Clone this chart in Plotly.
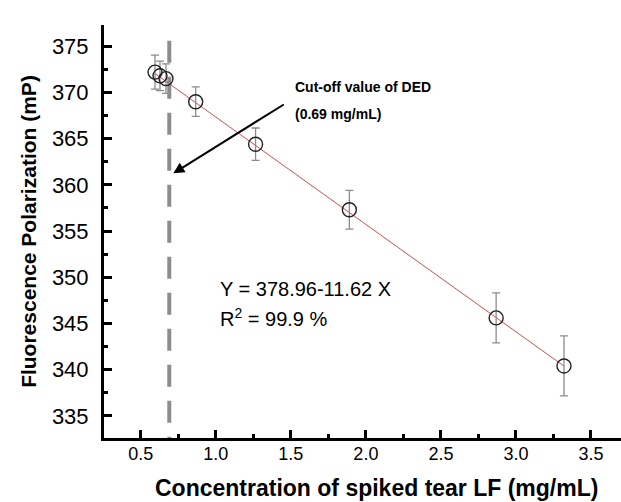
import plotly.graph_objects as go

# Data
conc = [0.595, 0.628, 0.668, 0.866, 1.265, 1.89, 2.868, 3.32]
fp = [372.2, 371.8, 371.5, 369.0, 364.4, 357.3, 345.6, 340.4]
fp_err = [1.85, 1.6, 1.6, 1.6, 1.75, 2.1, 2.7, 3.25]

intercept = 378.96
slope = -11.62
cutoff = 0.69

fit_x = [conc[0], conc[-1]]
fit_y = [intercept + slope * x for x in fit_x]

FONT = "Liberation Sans, Arial, sans-serif"

fig = go.Figure()

# cutoff dashed line
fig.add_trace(go.Scatter(
    x=[cutoff, cutoff], y=[375.6, 332.6], mode="lines",
    line=dict(color="#8c8c8c", width=4, dash="22px,14px"),
    showlegend=False, hoverinfo="skip"))

# fit line
fig.add_trace(go.Scatter(
    x=fit_x, y=fit_y, mode="lines",
    line=dict(color="#d0504c", width=1),
    showlegend=False, hoverinfo="skip"))

# points with error bars
fig.add_trace(go.Scatter(
    x=conc, y=fp, mode="markers",
    marker=dict(symbol="circle-open", size=14, color="#222222", line=dict(width=1.4)),
    error_y=dict(type="data", array=fp_err, visible=True, color="#8c8c8c", thickness=1.3, width=4),
    showlegend=False))

fig.add_annotation(
    x=0.717, y=361.25, ax=1.473, ay=368.9, xref="x", yref="y", axref="x", ayref="y",
    showarrow=True, arrowhead=2, arrowsize=1.1, arrowwidth=2, arrowcolor="black", text=" ")

fig.add_annotation(x=1.515, y=370.55, xref="x", yref="y", xanchor="left", yanchor="middle",
                   text="<b>Cut-off value of DED</b>", showarrow=False,
                   font=dict(family=FONT, size=14, color="black"))
fig.add_annotation(x=1.515, y=367.66, xref="x", yref="y", xanchor="left", yanchor="middle",
                   text="<b>(0.69 mg/mL)</b>", showarrow=False,
                   font=dict(family=FONT, size=14, color="black"))

fig.add_annotation(x=1.015, y=348.73, xref="x", yref="y", xanchor="left", yanchor="middle",
                   text="Y = 378.96-11.62 X", showarrow=False,
                   font=dict(family=FONT, size=20, color="black"))
fig.add_annotation(x=1.015, y=345.65, xref="x", yref="y", xanchor="left", yanchor="middle",
                   text="R<sup>2</sup> = 99.9 %", showarrow=False,
                   font=dict(family=FONT, size=20, color="black"))

# x-axis title (placed as annotation to match horizontal offset)
fig.add_annotation(x=0.527, y=-0.121, xref="paper", yref="paper", xanchor="center", yanchor="middle",
                   text="<b>Concentration of spiked tear LF (mg/mL)</b>", showarrow=False,
                   font=dict(family=FONT, size=23, color="black"))

fig.update_layout(
    width=621, height=502,
    margin=dict(l=104, r=0, t=25, b=64),
    paper_bgcolor="white", plot_bgcolor="white",
    font=dict(family=FONT, color="black"),
    xaxis=dict(
        range=[0.255, 3.70], tickvals=[0.5, 1.0, 1.5, 2.0, 2.5, 3.0, 3.5],
        ticktext=["0.5", "1.0", "1.5", "2.0", "2.5", "3.0", "3.5"],
        ticks="inside", ticklen=8, tickwidth=3, tickcolor="black",
        minor=dict(ticks="inside", ticklen=4, tickwidth=3, dtick=0.25, tick0=0.25, tickcolor="black"),
        showline=True, linewidth=3, linecolor="black", showgrid=False, zeroline=False,
        tickfont=dict(size=18), ticklabelstandoff=-3,
    ),
    yaxis=dict(
        range=[332.6, 377.3], tickvals=[335, 340, 345, 350, 355, 360, 365, 370, 375],
        ticks="inside", ticklen=8, tickwidth=3, tickcolor="black",
        minor=dict(ticks="inside", ticklen=4, tickwidth=3, dtick=2.5, tick0=0, tickcolor="black"),
        showline=True, linewidth=3, linecolor="black", showgrid=False, zeroline=False,
        tickfont=dict(size=22), ticklabelstandoff=8,
        title=dict(text="<b>Fluorescence Polarization (mP)</b>", font=dict(size=21), standoff=10),
    ),
)

fig.write_html("out.html")
